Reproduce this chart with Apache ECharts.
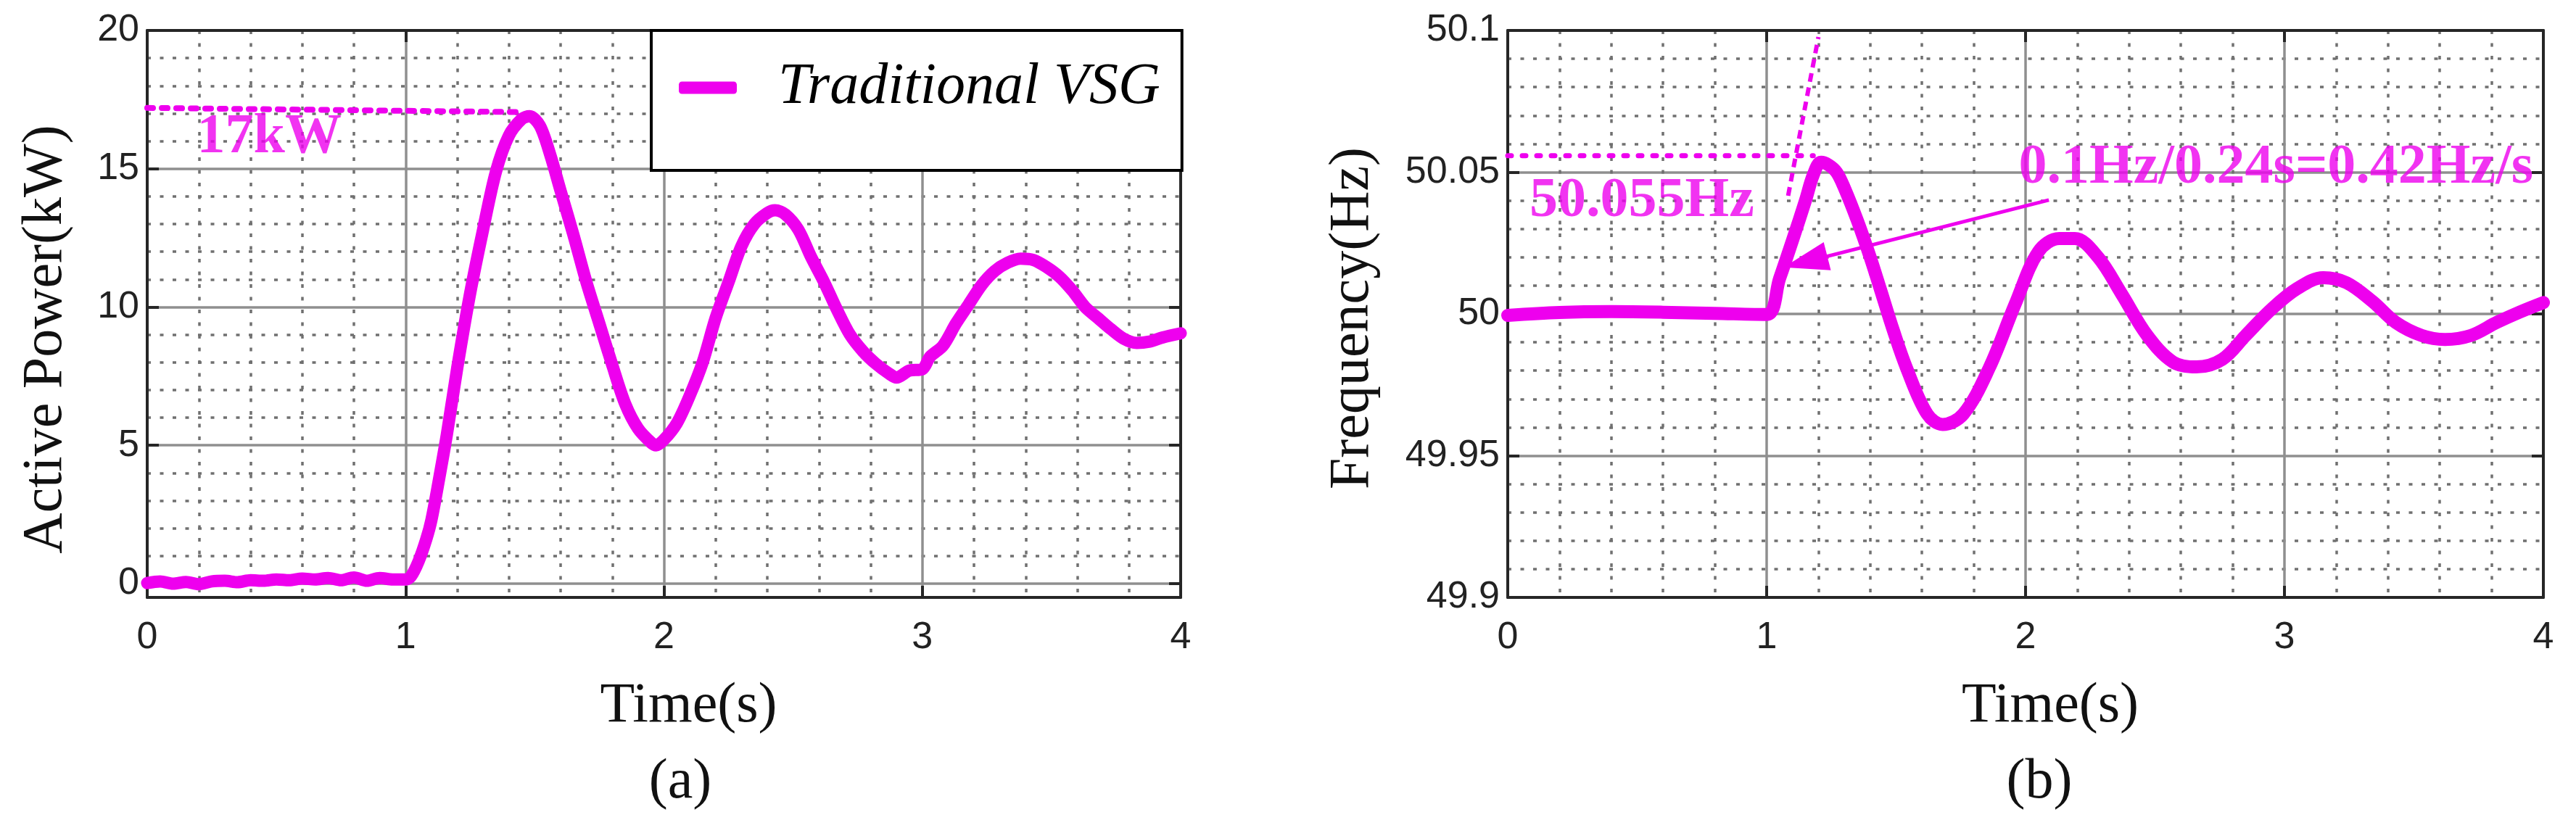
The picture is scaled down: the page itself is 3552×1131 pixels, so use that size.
<!DOCTYPE html>
<html>
<head>
<meta charset="utf-8">
<script src="https://cdn.jsdelivr.net/npm/echarts@6/dist/echarts.min.js"></script>
<style>
html, body { margin: 0; padding: 0; background: #fff; }
#main { width: 3552px; height: 1131px; }
</style>
</head>
<body>
<div id="main"></div>
<script>
// (a) active power of the traditional VSG
var timeA = [0, 0.05, 0.1, 0.15, 0.2, 0.25, 0.3, 0.35, 0.4, 0.45, 0.5, 0.55, 0.6, 0.65, 0.7, 0.75, 0.8, 0.85, 0.9, 0.95,
    1.0, 1.02, 1.05, 1.08, 1.1, 1.13, 1.16, 1.2, 1.25, 1.3, 1.35, 1.4, 1.45, 1.48, 1.52, 1.56, 1.6, 1.65, 1.7, 1.75,
    1.8, 1.85, 1.9, 1.95, 1.97, 2.0, 2.05, 2.1, 2.15, 2.2, 2.25, 2.3, 2.35, 2.4, 2.43, 2.47, 2.52, 2.57, 2.62, 2.67,
    2.72, 2.77, 2.82, 2.87, 2.9, 2.95, 3.0, 3.03, 3.08, 3.13, 3.18, 3.23, 3.28, 3.33, 3.38, 3.43, 3.48, 3.53, 3.58, 3.63,
    3.68, 3.73, 3.78, 3.83, 3.88, 3.93, 4.0];
var powerA = [0.02, 0.08, 0.0, 0.06, -0.02, 0.08, 0.1, 0.05, 0.12, 0.1, 0.15, 0.12, 0.18, 0.15, 0.2, 0.12, 0.22, 0.1, 0.2, 0.15,
    0.15, 0.25, 0.8, 1.6, 2.3, 3.8, 5.4, 7.8, 10.5, 12.8, 14.9, 16.2, 16.8, 16.9, 16.55, 15.5, 14.2, 12.6, 10.9, 9.4,
    7.9, 6.5, 5.6, 5.1, 5.0, 5.2, 5.8, 6.8, 8.0, 9.6, 10.9, 12.2, 13.0, 13.4, 13.5, 13.35, 12.8, 11.8, 10.9, 9.9,
    9.0, 8.4, 7.95, 7.6, 7.45, 7.7, 7.75, 8.2, 8.6, 9.4, 10.1, 10.8, 11.3, 11.6, 11.75, 11.7, 11.45, 11.1, 10.6, 10.0,
    9.6, 9.2, 8.85, 8.7, 8.75, 8.9, 9.05];

// (b) frequency of the traditional VSG
var timeB = [0, 0.2, 0.4, 0.6, 0.8, 1.0, 1.05, 1.1, 1.15, 1.18, 1.21, 1.24, 1.27, 1.3, 1.35, 1.4, 1.44, 1.49, 1.54, 1.62, 1.68, 1.76,
    1.86, 1.96, 2.05, 2.13, 2.19, 2.28, 2.37, 2.47, 2.57, 2.66, 2.76, 2.85, 2.95, 3.05, 3.15, 3.24, 3.34, 3.43, 3.53, 3.62,
    3.72, 3.82, 3.91, 4.0];
var freqB = [49.9995, 50.0005, 50.0008, 50.0006, 50.0002, 49.9998, 50.0125, 50.026, 50.040, 50.049, 50.0535, 50.0525, 50.050, 50.0445, 50.033, 50.020, 50.0085, 49.994, 49.981, 49.9647, 49.961, 49.9647,
    49.981, 50.0035, 50.022, 50.0266, 50.0266, 50.020, 50.0072, 49.9924, 49.983, 49.9813, 49.984, 49.9924, 50.0017, 50.009, 50.0128, 50.011, 50.0044, 49.997, 49.9924, 49.991,
    49.9924, 49.997, 50.0007, 50.004];

// axis ranges and tick steps
var timeRange = [0, 4], timeStep = 1;
var powerRange = [-0.5, 20];
var freqRange = [49.9, 50.1], freqStep = 0.05;

// annotations (data coordinates)
var peakLineA = [[0, 17.2], [1.43, 17.05]];
var peakTextA = [[0.194, 16.12]];
var peakLineB = [[0, 50.0558], [1.18, 50.0558]];
var slopeLineB = [[1.083, 50.0417], [1.2, 50.0977]];
var arrowB = [[2.09, 50.0402], [1.15, 50.0184]];
var peakTextB = [[0.0854, 50.0396]];
var slopeTextB = [[1.975, 50.0513]];

var MAG = '#ee00ee';
var SANS = 'Liberation Sans';
var SERIF = 'Liberation Serif';
var FRAME = '#262626';

function zip(xs, ys) {
    var out = [];
    for (var i = 0; i < xs.length; i++) out.push([xs[i], ys[i]]);
    return out;
}

var majorLine = { show: true, lineStyle: { color: '#8f8f8f', width: 3.5, type: 'solid' } };
var minorLine = { show: true, lineStyle: { color: '#707070', width: 3.5, type: [5, 12.5] } };
var frameLine = { show: true, onZero: false, lineStyle: { color: FRAME, width: 4 } };
var frameTick = { show: true, inside: true, length: 16, lineStyle: { color: FRAME, width: 4 } };
var tickFont = { fontFamily: SANS, fontSize: 52, color: '#222' };

function timeAxis(grid, pos, withLabels) {
    var ax = {
        gridIndex: grid, type: 'value', position: pos,
        min: timeRange[0], max: timeRange[1], interval: timeStep,
        axisLine: frameLine, axisTick: frameTick,
        minorTick: { show: false, splitNumber: 5 },
        axisLabel: { show: false },
        splitLine: { show: false }, minorSplitLine: { show: false }
    };
    if (withLabels) {
        ax.axisLabel = Object.assign({ show: true, margin: 30 }, tickFont);
        ax.splitLine = majorLine;
        ax.minorSplitLine = minorLine;
        ax.name = 'Time(s)';
        ax.nameLocation = 'middle';
        ax.nameGap = 112;
        ax.nameTextStyle = { fontFamily: SERIF, fontSize: 78, color: '#111', padding: [0, 0, 0, 68] };
    }
    return ax;
}

function valueAxis(grid, pos, range, step, title, gap, pad) {
    var ax = {
        gridIndex: grid, type: 'value', position: pos,
        min: range[0], max: range[1],
        axisLine: frameLine, axisTick: frameTick,
        minorTick: { show: false, splitNumber: 5 },
        axisLabel: { show: false },
        splitLine: { show: false }, minorSplitLine: { show: false }
    };
    if (step) ax.interval = step; else ax.splitNumber = 4;
    if (title) {
        ax.axisLabel = Object.assign({
            show: true, margin: 11,
            formatter: function (v) { return v < 0 ? '' : String(+v.toFixed(3)); }
        }, tickFont);
        ax.splitLine = majorLine;
        ax.minorSplitLine = minorLine;
        ax.name = title;
        ax.nameLocation = 'middle';
        ax.nameGap = gap;
        ax.nameTextStyle = { fontFamily: SERIF, fontSize: 78, color: '#111', padding: pad };
    }
    return ax;
}

function textSeries(xi, yi, pts, text) {
    return {
        type: 'scatter', xAxisIndex: xi, yAxisIndex: yi, silent: true,
        symbolSize: 1, itemStyle: { color: 'rgba(0,0,0,0)' }, z: 6,
        data: pts,
        label: {
            show: true, position: [0, 0], align: 'left', verticalAlign: 'middle',
            formatter: text, color: MAG, fontFamily: SERIF, fontWeight: 'bold', fontSize: 78
        }
    };
}

var option = {
    animation: false,
    backgroundColor: '#fff',
    grid: [
        { left: 203, top: 42, width: 1425, height: 782, containLabel: false, outerBoundsMode: 'none' },
        { left: 2079, top: 42, width: 1428, height: 782, containLabel: false, outerBoundsMode: 'none' }
    ],
    xAxis: [
        timeAxis(0, 'bottom', true), timeAxis(0, 'top', false),
        timeAxis(1, 'bottom', true), timeAxis(1, 'top', false)
    ],
    yAxis: [
        valueAxis(0, 'left', powerRange, null, 'Active Power(kW)', 100, [0, 70, 0, 0]),
        valueAxis(0, 'right', powerRange, null, null),
        valueAxis(1, 'left', freqRange, freqStep, 'Frequency(Hz)', 174, [0, 12, 0, 0]),
        valueAxis(1, 'right', freqRange, freqStep, null)
    ],
    legend: {
        data: ['Traditional VSG'], selectedMode: false,
        left: 898, top: 42, orient: 'horizontal',
        backgroundColor: '#fff', borderColor: '#000', borderWidth: 4, borderRadius: 0,
        padding: [39, 30, 74, 38],
        itemWidth: 80, itemHeight: 17, icon: 'roundRect',
        textStyle: { fontFamily: SERIF, fontStyle: 'italic', fontSize: 80, color: '#000', lineHeight: 80, padding: [0, 0, 0, 52] }
    },
    graphic: [
        { type: 'text', x: 938, y: 1080, style: { text: '(a)', align: 'center', verticalAlign: 'middle', fontFamily: SERIF, fontSize: 78, fill: '#111' } },
        { type: 'text', x: 2812, y: 1080, style: { text: '(b)', align: 'center', verticalAlign: 'middle', fontFamily: SERIF, fontSize: 78, fill: '#111' } }
    ],
    series: [
        {
            name: 'Traditional VSG', type: 'line', xAxisIndex: 0, yAxisIndex: 0,
            data: zip(timeA, powerA), showSymbol: false, smooth: 0.3, clip: false, z: 5,
            color: MAG, lineStyle: { color: MAG, width: 17, cap: 'round', join: 'round' }
        },
        {
            name: 'Traditional VSG', type: 'line', xAxisIndex: 2, yAxisIndex: 2,
            data: zip(timeB, freqB), showSymbol: false, smooth: 0.35, clip: false, z: 5,
            color: MAG, lineStyle: { color: MAG, width: 18, cap: 'round', join: 'round' }
        },
        {
            name: 'peakA', type: 'line', xAxisIndex: 0, yAxisIndex: 0, data: peakLineA,
            showSymbol: false, silent: true, clip: false, z: 4,
            lineStyle: { color: MAG, width: 8, type: [8, 12], cap: 'round' }
        },
        textSeries(0, 0, peakTextA, '17kW'),
        {
            name: 'peakB', type: 'line', xAxisIndex: 2, yAxisIndex: 2, data: peakLineB,
            showSymbol: false, silent: true, clip: false, z: 4,
            lineStyle: { color: MAG, width: 7, type: [5, 15], cap: 'round' }
        },
        {
            name: 'slopeB', type: 'line', xAxisIndex: 2, yAxisIndex: 2, data: slopeLineB,
            showSymbol: false, silent: true, clip: false, z: 4,
            lineStyle: { color: MAG, width: 6, type: [12, 8] },
            markLine: {
                silent: true, symbol: ['none', 'triangle'], symbolSize: [40, 62],
                label: { show: false },
                lineStyle: { color: MAG, width: 5, type: 'solid' },
                data: [[{ coord: arrowB[0] }, { coord: arrowB[1] }]]
            }
        },
        textSeries(2, 2, peakTextB, '50.055Hz'),
        textSeries(2, 2, slopeTextB, '0.1Hz/0.24s=0.42Hz/s')
    ]
};

var chart = echarts.init(document.getElementById('main'));
chart.setOption(option);
</script>
</body>
</html>
